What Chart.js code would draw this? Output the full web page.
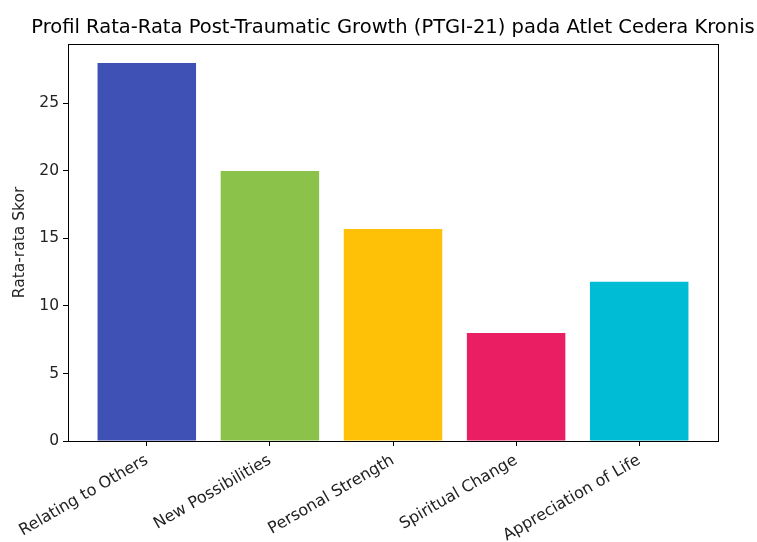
<!DOCTYPE html>
<html>
<head>
<meta charset="utf-8">
<script src="https://cdn.jsdelivr.net/npm/chart.js@4"></script>
<style>
  html,body{margin:0;padding:0;background:#fff;}
  #wrap{width:757px;height:542px;position:relative;}
</style>
</head>
<body>
<div id="wrap"><canvas id="c" width="757" height="542"></canvas></div>
<script>
/* PTGI-21 rata-rata per domain */
const TITLE = 'Profil Rata-Rata Post-Traumatic Growth (PTGI-21) pada Atlet Cedera Kronis';
const Y_LABEL = 'Rata-rata Skor';
const categories = ['Relating to Others','New Possibilities','Personal Strength','Spiritual Change','Appreciation of Life'];
const means = [28.0, 20.0, 15.7, 8.0, 11.8];
const colors = ['#3F51B5','#8BC34A','#FFC107','#E91E63','#00BCD4'];
const yTicks = [0,5,10,15,20,25];

const FONT = 'DejaVu Sans';

// kotak sumbu + judul ala matplotlib
const frame = {
  id:'frame',
  afterDraw(ch){
    const {ctx, chartArea:a} = ch;
    ctx.save();
    ctx.strokeStyle = '#000'; ctx.lineWidth = 1;
    ctx.strokeRect(Math.round(a.left)+0.5, Math.round(a.top)+0.5, Math.round(a.right-a.left), Math.round(a.bottom-a.top));
    ctx.fillStyle = '#000';
    ctx.font = `19.5px "${FONT}"`;
    ctx.textAlign = 'center'; ctx.textBaseline = 'alphabetic';
    ctx.fillText(TITLE, (a.left+a.right)/2, a.top-11);
    ctx.restore();
  }
};

new Chart(document.getElementById('c'), {
  type:'bar',
  data:{
    datasets:[{
      data: means.map((v,i)=>({x:i, y:v})),
      backgroundColor: colors,
      borderWidth:0,
      barPercentage:0.8,
      categoryPercentage:1.0
    }]
  },
  options:{
    responsive:false,
    animation:false,
    layout:{padding:{left:0, right:39, top:44, bottom:0}},
    plugins:{legend:{display:false}, tooltip:{enabled:false}, title:{display:false}},
    scales:{
      x:{
        type:'linear', min:-0.64, max:4.64, offset:false,
        afterFit: s => { s.height = 101; },
        afterBuildTicks: s => { s.ticks = categories.map((_,i)=>({value:i})); },
        grid:{drawOnChartArea:false, offset:false, tickLength:5, color:'#000'},
        border:{display:true, color:'#000'},
        ticks:{
          autoSkip:false, minRotation:30, maxRotation:30, padding:5,
          color:'#222', font:{family:FONT, size:16},
          callback: v => categories[v]
        }
      },
      y:{
        min:0, max:29.4,
        afterFit: s => { s.width = 68; },
        afterBuildTicks: s => { s.ticks = yTicks.map(v=>({value:v})); },
        grid:{drawOnChartArea:false, tickLength:5, color:'#000'},
        border:{display:true, color:'#000'},
        ticks:{color:'#222', font:{family:FONT, size:15.5}, padding:4},
        title:{display:true, text:Y_LABEL, color:'#222', font:{family:FONT, size:15.5}, padding:{top:11,bottom:0}}
      }
    }
  },
  plugins:[frame]
});
</script>
</body>
</html>
